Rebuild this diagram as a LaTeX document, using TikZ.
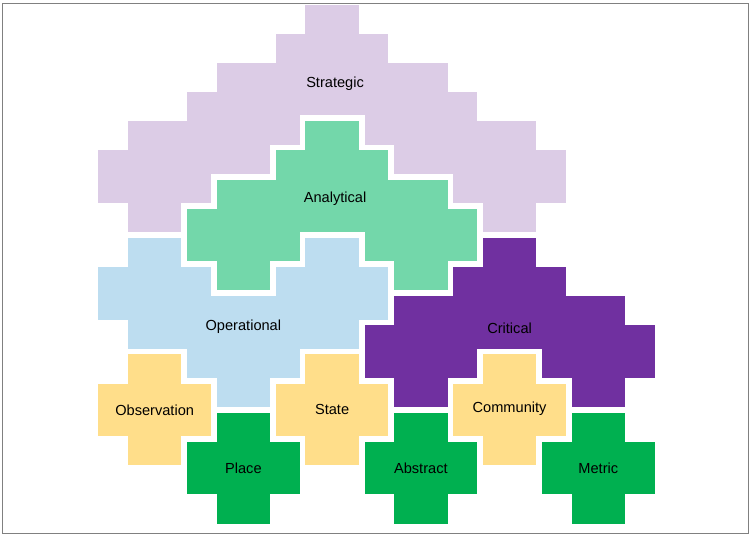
\documentclass[tikz,border=0pt]{standalone}
\usepackage{fontspec}
\setmainfont{Liberation Sans}
\usepackage{tikz}
\definecolor{strategic}{RGB}{220,204,230}
\definecolor{analytical}{RGB}{115,215,170}
\definecolor{operational}{RGB}{189,221,240}
\definecolor{critical}{RGB}{112,48,160}
\definecolor{lens}{RGB}{255,222,138}
\definecolor{space}{RGB}{0,176,80}

\begin{document}
\begin{tikzpicture}[x=29.58pt,y=-29.16pt]
\tikzstyle{every node}+=[inner sep=0pt,font=\fontsize{14.6}{17}\selectfont]
\tikzstyle{zone}=[postaction={draw=white,line width=5.8pt}]
\useasboundingbox (-0.228,-0.058) rectangle (25.23,18.36);
% strategic
\fill [strategic,zone] (10,0) -- (12,0) -- (12,1) -- (13,1) -- (13,2) -- (15,2) -- (15,3) -- (16,3) -- (16,4) -- (18,4) -- (18,5) -- (19,5) -- (19,7) -- (18,7) -- (18,8) -- (16,8) -- (16,7) -- (15,7) -- (15,6) -- (13,6) -- (13,5) -- (12,5) -- (12,4) -- (10,4) -- (10,5) -- (9,5) -- (9,6) -- (7,6) -- (7,7) -- (6,7) -- (6,8) -- (4,8) -- (4,7) -- (3,7) -- (3,5) -- (4,5) -- (4,4) -- (6,4) -- (6,3) -- (7,3) -- (7,2) -- (9,2) -- (9,1) -- (10,1) -- cycle;
% analytical
\fill [analytical,zone] (10,4) -- (12,4) -- (12,5) -- (13,5) -- (13,6) -- (15,6) -- (15,7) -- (16,7) -- (16,9) -- (15,9) -- (15,10) -- (13,10) -- (13,9) -- (12,9) -- (12,8) -- (10,8) -- (10,9) -- (9,9) -- (9,10) -- (7,10) -- (7,9) -- (6,9) -- (6,7) -- (7,7) -- (7,6) -- (9,6) -- (9,5) -- (10,5) -- cycle;
% operational
\fill [operational,zone] (4,8) -- (6,8) -- (6,9) -- (7,9) -- (7,10) -- (9,10) -- (9,9) -- (10,9) -- (10,8) -- (12,8) -- (12,9) -- (13,9) -- (13,11) -- (12,11) -- (12,12) -- (10,12) -- (10,13) -- (9,13) -- (9,14) -- (7,14) -- (7,13) -- (6,13) -- (6,12) -- (4,12) -- (4,11) -- (3,11) -- (3,9) -- (4,9) -- cycle;
% critical
\fill [critical,zone] (16,8) -- (18,8) -- (18,9) -- (19,9) -- (19,10) -- (21,10) -- (21,11) -- (22,11) -- (22,13) -- (21,13) -- (21,14) -- (19,14) -- (19,13) -- (18,13) -- (18,12) -- (16,12) -- (16,13) -- (15,13) -- (15,14) -- (13,14) -- (13,13) -- (12,13) -- (12,11) -- (13,11) -- (13,10) -- (15,10) -- (15,9) -- (16,9) -- cycle;
% small crosses
\foreach \c/\m/\col in {5/14/lens,11/14/lens,17/14/lens,8/16/space,14/16/space,20/16/space}
  \fill [\col,zone] (\c-1,\m-2) -- (\c+1,\m-2) -- (\c+1,\m-1) -- (\c+2,\m-1) -- (\c+2,\m+1) -- (\c+1,\m+1) -- (\c+1,\m+2) -- (\c-1,\m+2) -- (\c-1,\m+1) -- (\c-2,\m+1) -- (\c-2,\m-1) -- (\c-1,\m-1) -- cycle;
\node (strat) at (11.1,2.8) {Strategic};
\node (analyt) at (11.1,6.75) {Analytical};
\node (operat) at (8,11.14) {Operational};
\node (crit) at (17,11.19) {Critical};
\node (observ) at (5,14) {Observation};
\node (state) at (11,14) {State};
\node (commun) at (17,13.95) {Community};
\node (place) at (8,16) {Place};
\node (abstr) at (14,16) {Abstract};
\node (metric) at (20,16) {Metric};
% frame
\draw [black!50,line width=1pt] (-0.144,0.056) rectangle (25.08,18.24);
\end{tikzpicture}
\end{document}
